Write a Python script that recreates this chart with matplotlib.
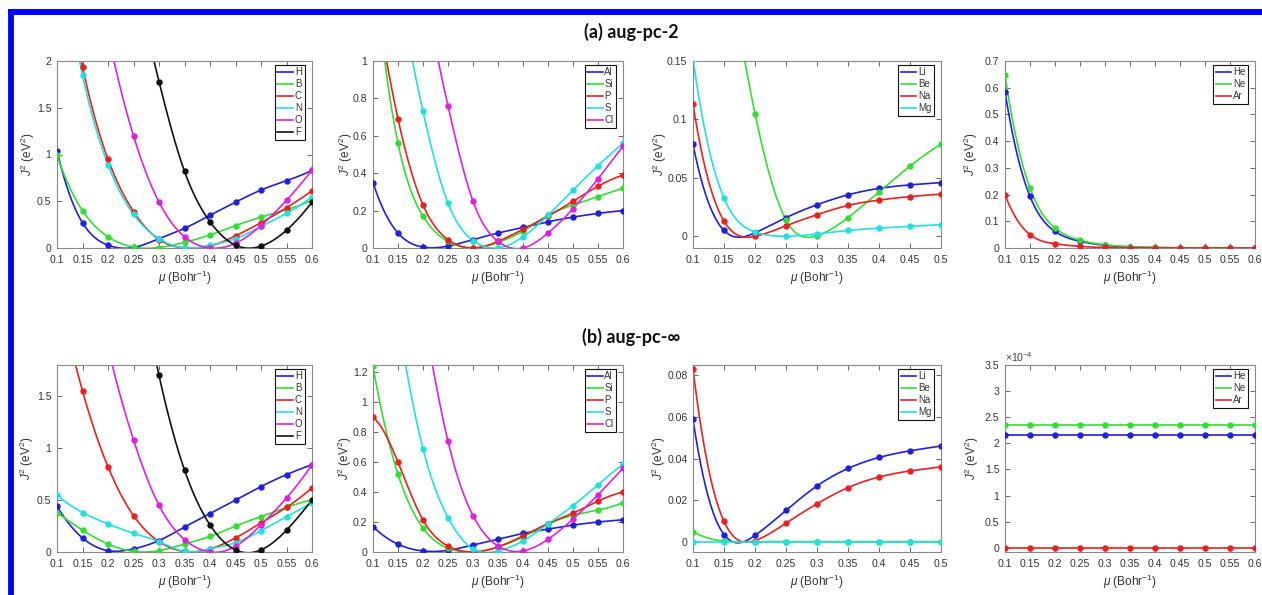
import numpy as np
import matplotlib
matplotlib.use("Agg")
import matplotlib.pyplot as plt
from matplotlib.lines import Line2D
from matplotlib.ticker import FuncFormatter, MultipleLocator

plt.rcParams['font.family'] = ['Liberation Sans', 'DejaVu Sans']
plt.rcParams['mathtext.fontset'] = 'custom'
plt.rcParams['mathtext.rm'] = 'Liberation Sans'
plt.rcParams['mathtext.it'] = 'Liberation Sans:italic'

# ---------------- data ----------------
mu11 = [0.1, 0.15, 0.2, 0.25, 0.3, 0.35, 0.4, 0.45, 0.5, 0.55, 0.6]
mu9 = [0.1, 0.15, 0.2, 0.25, 0.3, 0.35, 0.4, 0.45, 0.5]

# (a) aug-pc-2
a1_labels = ['H', 'B', 'C', 'N', 'O', 'F']
a1_H = [1.04, 0.27, 0.03, 0.005, 0.10, 0.21, 0.35, 0.49, 0.62, 0.72, 0.83]
a1_B = [0.99, 0.40, 0.12, 0.01, 0.005, 0.06, 0.14, 0.24, 0.33, 0.41, 0.51]
a1_C = [3.6, 1.94, 0.95, 0.39, 0.09, 0.0, 0.02, 0.13, 0.27, 0.43, 0.61]
a1_N = [3.5, 1.85, 0.89, 0.36, 0.10, 0.0, 0.03, 0.10, 0.23, 0.37, 0.55]
a1_O = [6.0, 3.9, 2.3, 1.2, 0.49, 0.12, 0.0, 0.05, 0.24, 0.51, 0.83]
a1_F = [8.7, 6.5, 4.6, 3.0, 1.78, 0.82, 0.28, 0.03, 0.02, 0.19, 0.49]

a2_labels = ['Al', 'Si', 'P', 'S', 'Cl']
a2_Al = [0.35, 0.08, 0.005, 0.01, 0.045, 0.08, 0.11, 0.14, 0.165, 0.185, 0.20]
a2_Si = [1.6, 0.56, 0.17, 0.035, 0.0, 0.03, 0.09, 0.175, 0.23, 0.275, 0.32]
a2_P = [1.45, 0.69, 0.23, 0.045, 0.0, 0.035, 0.10, 0.17, 0.25, 0.33, 0.39]
a2_S = [2.6, 1.45, 0.73, 0.24, 0.04, 0.0, 0.06, 0.175, 0.31, 0.44, 0.56]
a2_Cl = [3.8, 2.5, 1.45, 0.76, 0.25, 0.035, 0.0, 0.08, 0.21, 0.37, 0.545]

a3_labels = ['Li', 'Be', 'Na', 'Mg']
a3_Li = [0.0787, 0.005, 0.003, 0.016, 0.027, 0.0355, 0.041, 0.044, 0.046]
a3_Be = [0.55, 0.27, 0.105, 0.014, 0.0005, 0.016, 0.038, 0.060, 0.079]
a3_Na = [0.113, 0.013, 0.0, 0.009, 0.0185, 0.0264, 0.031, 0.034, 0.036]
a3_Mg = [0.152, 0.0327, 0.0037, 0.0, 0.002, 0.005, 0.007, 0.0085, 0.010]

a4_labels = ['He', 'Ne', 'Ar']
a4_He = [0.585, 0.193, 0.062, 0.025, 0.010, 0.004, 0.0015, 0.0006, 0.0002, 0.0001, 0.0]
a4_Ne = [0.647, 0.224, 0.075, 0.029, 0.012, 0.005, 0.002, 0.0008, 0.0003, 0.0001, 0.0]
a4_Ar = [0.199, 0.050, 0.016, 0.006, 0.002, 0.001, 0.0004, 0.0002, 0.0001, 0.0, 0.0]

# (b) aug-pc-inf
b1_H = [0.44, 0.135, 0.013, 0.03, 0.11, 0.24, 0.37, 0.50, 0.63, 0.745, 0.84]
b1_B = [0.38, 0.21, 0.077, 0.006, 0.013, 0.077, 0.15, 0.25, 0.34, 0.43, 0.50]
b1_C = [2.6, 1.55, 0.82, 0.35, 0.10, 0.005, 0.03, 0.135, 0.28, 0.43, 0.62]
b1_N = [0.55, 0.38, 0.27, 0.18, 0.10, 0.006, 0.03, 0.09, 0.205, 0.34, 0.47]
b1_O = [4.7, 3.2, 1.97, 1.08, 0.45, 0.12, 0.0, 0.055, 0.26, 0.52, 0.84]
b1_F = [8.7, 6.5, 4.6, 3.0, 1.70, 0.79, 0.26, 0.02, 0.02, 0.21, 0.50]

b2_Al = [0.17, 0.052, 0.007, 0.011, 0.047, 0.085, 0.124, 0.153, 0.18, 0.20, 0.216]
b2_Si = [1.24, 0.52, 0.16, 0.025, 0.0, 0.034, 0.10, 0.187, 0.245, 0.28, 0.33]
b2_P = [0.90, 0.60, 0.214, 0.04, 0.0, 0.034, 0.108, 0.19, 0.26, 0.34, 0.40]
b2_S = [2.7, 1.55, 0.69, 0.23, 0.02, 0.007, 0.074, 0.187, 0.31, 0.45, 0.585]
b2_Cl = [3.9, 2.6, 1.6, 0.74, 0.243, 0.04, 0.007, 0.085, 0.22, 0.383, 0.56]

b3_Li = [0.0589, 0.0034, 0.003, 0.015, 0.0268, 0.0352, 0.0405, 0.0437, 0.046]
b3_Be = [0.0048, 0.0002, 0.0, 0.0, 0.0, 0.0, 0.0, 0.0, 0.0]
b3_Na = [0.0832, 0.0097, 0.0005, 0.0089, 0.0182, 0.026, 0.0311, 0.034, 0.036]
b3_Mg = [0.0, 0.0, 0.0, 0.0, 0.0, 0.0, 0.0, 0.0, 0.0]

b4_He = [2.16e-4, 2.16e-4, 2.16e-4, 2.16e-4, 2.16e-4, 2.16e-4, 2.16e-4, 2.16e-4, 2.16e-4, 2.16e-4, 2.16e-4]
b4_Ne = [2.36e-4, 2.36e-4, 2.36e-4, 2.36e-4, 2.36e-4, 2.36e-4, 2.36e-4, 2.36e-4, 2.36e-4, 2.36e-4, 2.36e-4]
b4_Ar = [0.0, 0.0, 0.0, 0.0, 0.0, 0.0, 0.0, 0.0, 0.0, 0.0, 0.0]

title_a = '(a) aug-pc-2'
title_b = '(b) aug-pc-\u221e'

# ---------------- style ----------------
BLUE = '#2020d8'
GREEN = '#33dd33'
RED = '#e82020'
CYAN = '#22e0e0'
MAG = '#dd22dd'
BLACK = '#111111'


def spline(x, y, n=300):
    """not-a-knot cubic spline used only to draw the connecting line"""
    x = np.asarray(x, float)
    y = np.asarray(y, float)
    N = len(x)
    h = np.diff(x)
    A = np.zeros((N, N))
    b = np.zeros(N)
    A[0, 0], A[0, 1], A[0, 2] = h[1], -(h[0] + h[1]), h[0]
    A[-1, -3], A[-1, -2], A[-1, -1] = h[-1], -(h[-2] + h[-1]), h[-2]
    for i in range(1, N - 1):
        A[i, i - 1] = h[i - 1]
        A[i, i] = 2 * (h[i - 1] + h[i])
        A[i, i + 1] = h[i]
        b[i] = 6 * ((y[i + 1] - y[i]) / h[i] - (y[i] - y[i - 1]) / h[i - 1])
    M = np.linalg.solve(A, b)
    xs = np.linspace(x[0], x[-1], n)
    idx = np.clip(np.searchsorted(x, xs) - 1, 0, N - 2)
    x0, x1 = x[idx], x[idx + 1]
    hh = x1 - x0
    t0, t1 = x1 - xs, xs - x0
    ys = (M[idx] * t0 ** 3 / (6 * hh) + M[idx + 1] * t1 ** 3 / (6 * hh)
          + (y[idx] / hh - M[idx] * hh / 6) * t0
          + (y[idx + 1] / hh - M[idx + 1] * hh / 6) * t1)
    return xs, ys


W, H = 1262, 595
fig = plt.figure(figsize=(W / 100, H / 100), dpi=100)

cols = [(57, 312), (373, 623), (693, 941), (1005, 1255)]
rows = [(61, 248), (365, 552)]
ylab_off = [[-26, -24, -30, -31], [-27, -25, -31, -30]]


def make_ax(r, c):
    x0, x1 = cols[c]
    y0, y1 = rows[r]
    ax = fig.add_axes([x0 / W, 1 - y1 / H, (x1 - x0) / W, (y1 - y0) / H])
    ax._rc = (r, c)
    return ax


gfmt = FuncFormatter(lambda v, p: ('%g' % round(v, 6)))


def style(ax, xmax, ylim, ystep):
    r, c = ax._rc
    ax.set_xlim(0.1, xmax)
    ax.set_ylim(*ylim)
    ax.xaxis.set_major_locator(MultipleLocator(0.05))
    ax.yaxis.set_major_locator(MultipleLocator(ystep))
    ax.xaxis.set_major_formatter(gfmt)
    ax.yaxis.set_major_formatter(gfmt)
    ax.tick_params(direction='in', length=3.5, width=0.7, color='#666666',
                   top=True, right=True, labelsize=7.6, labelcolor='#333333')
    ax.tick_params(axis='x', pad=5)
    ax.tick_params(axis='y', pad=4)
    for s in ax.spines.values():
        s.set_color('#888888')
        s.set_linewidth(0.8)
    ax.set_xlabel(r'$\mu$ (Bohr$^{-1}$)', fontsize=8.5, color='#333333', labelpad=3)
    ax.set_ylabel(r'$J^2$ (eV$^2$)', fontsize=8.5, color='#333333')
    wpx = cols[c][1] - cols[c][0]
    ax.yaxis.set_label_coords((ylab_off[r][c] + 6) / wpx, 0.5)


def draw(ax, x, series, labels, colors):
    handles = []
    for y, lab, col in zip(series, labels, colors):
        xs, ys = spline(x, y)
        ln, = ax.plot(xs, ys, color=col, lw=1.2, label=lab, zorder=2)
        ax.plot(x, y, 'o', color=col, ms=3.6, mec=col, zorder=3)
        handles.append(ln)
    leg = ax.legend(handles=handles, loc='upper right',
                    bbox_to_anchor=(1 - 7 / 250, 1 - 4 / 187),
                    borderaxespad=0, fontsize=7, handlelength=1.6,
                    handletextpad=0.2, borderpad=0.25, labelspacing=0.2,
                    fancybox=False, framealpha=1, edgecolor='#111111')
    leg.get_frame().set_linewidth(0.8)
    for t in leg.get_texts():
        t.set_color('#333333')


c6 = [BLUE, GREEN, RED, CYAN, MAG, BLACK]
c5 = [BLUE, GREEN, RED, CYAN, MAG]
c4 = [BLUE, GREEN, RED, CYAN]
c3 = [BLUE, GREEN, RED]

# row (a)
ax = make_ax(0, 0)
draw(ax, mu11, [a1_H, a1_B, a1_C, a1_N, a1_O, a1_F], a1_labels, c6)
style(ax, 0.6, (0, 2), 0.5)
ax = make_ax(0, 1)
draw(ax, mu11, [a2_Al, a2_Si, a2_P, a2_S, a2_Cl], a2_labels, c5)
style(ax, 0.6, (0, 1), 0.2)
ax = make_ax(0, 2)
draw(ax, mu9, [a3_Li, a3_Be, a3_Na, a3_Mg], a3_labels, c4)
style(ax, 0.5, (-0.01, 0.15), 0.05)
ax = make_ax(0, 3)
draw(ax, mu11, [a4_He, a4_Ne, a4_Ar], a4_labels, c3)
style(ax, 0.6, (0, 0.7), 0.1)

# row (b)
ax = make_ax(1, 0)
draw(ax, mu11, [b1_H, b1_B, b1_C, b1_N, b1_O, b1_F], a1_labels, c6)
style(ax, 0.6, (0, 1.8), 0.5)
ax = make_ax(1, 1)
draw(ax, mu11, [b2_Al, b2_Si, b2_P, b2_S, b2_Cl], a2_labels, c5)
style(ax, 0.6, (0, 1.25), 0.2)
ax = make_ax(1, 2)
draw(ax, mu9, [b3_Li, b3_Be, b3_Na, b3_Mg], a3_labels, c4)
style(ax, 0.5, (-0.005, 0.085), 0.02)
ax = make_ax(1, 3)
draw(ax, mu11, [b4_He, b4_Ne, b4_Ar], a4_labels, c3)
style(ax, 0.6, (-0.08e-4, 3.5e-4), 0.5e-4)
ax.yaxis.set_major_formatter(FuncFormatter(lambda v, p: '%g' % round(v * 1e4, 4)))
ax.text(0.0, 1.005, r'$\times10^{-4}$', transform=ax.transAxes, fontsize=7.5,
        color='#444444', ha='left', va='bottom')

# titles
fig.text(631 / W, 1 - 32 / H, title_a, ha='center', va='center', fontsize=13,
         fontweight='bold', family=['Lato', 'DejaVu Sans'], color='#111111')
fig.text(631 / W, 1 - 337 / H, title_b, ha='center', va='center', fontsize=13,
         fontweight='bold', family=['Lato', 'DejaVu Sans'], color='#111111')

# blue frame
fig.add_artist(Line2D([8 / W, 1.0], [1 - 12.3 / H, 1 - 12.3 / H],
                      transform=fig.transFigure, color='#0000ff', lw=6 * 0.72,
                      solid_capstyle='butt'))
fig.add_artist(Line2D([11.2 / W, 11.2 / W], [1 - 9.3 / H, 0.0],
                      transform=fig.transFigure, color='#0000ff', lw=5.8 * 0.72,
                      solid_capstyle='butt'))

fig.savefig('out.png', dpi=100)
